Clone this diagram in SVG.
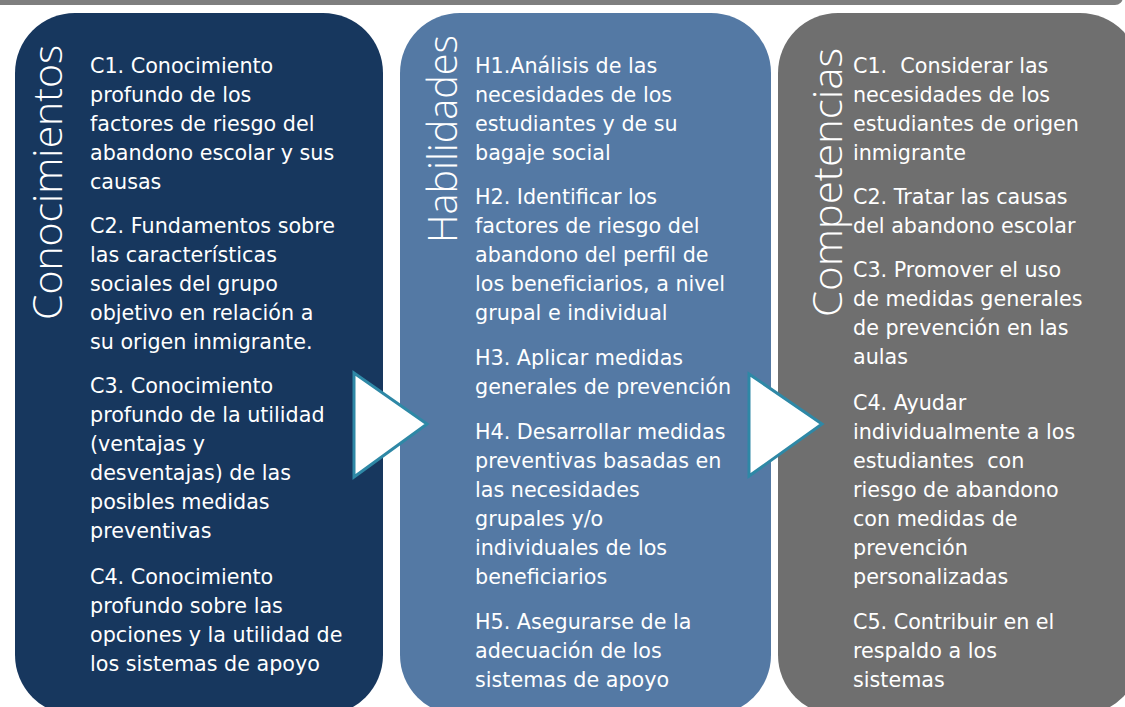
<svg xmlns="http://www.w3.org/2000/svg" width="1125" height="707" viewBox="0 0 1125 707">
<style>
.body{font-family:"DejaVu Sans","Liberation Sans",sans-serif;font-size:20.7px;fill:#ffffff;white-space:pre}
.title{font-family:"Open Sans","Lato","Liberation Sans",sans-serif;font-weight:300;font-size:40px;fill:#ffffff}
.arrow{fill:#ffffff;stroke:#2E88A6;stroke-width:3;stroke-linejoin:miter}
</style>
<rect width="1125" height="707" fill="#ffffff"/>
<rect x="-20" y="-40" width="1143" height="45" rx="8" fill="#7F7F7F"/>
<g id="conocimientos">
<rect x="15" y="13" width="368" height="702" rx="60" fill="#17375E"/>
<text class="title" transform="translate(62,320) rotate(-90)" textLength="275" lengthAdjust="spacingAndGlyphs">Conocimientos</text>
<text class="body" x="90">
<tspan x="90" y="73">C1. Conocimiento</tspan>
<tspan x="90" y="102">profundo de los</tspan>
<tspan x="90" y="131">factores de riesgo del</tspan>
<tspan x="90" y="160">abandono escolar y sus</tspan>
<tspan x="90" y="189">causas</tspan>
<tspan x="90" y="233">C2. Fundamentos sobre</tspan>
<tspan x="90" y="262">las características</tspan>
<tspan x="90" y="291">sociales del grupo</tspan>
<tspan x="90" y="320">objetivo en relación a</tspan>
<tspan x="90" y="349">su origen inmigrante.</tspan>
<tspan x="90" y="393">C3. Conocimiento</tspan>
<tspan x="90" y="422">profundo de la utilidad</tspan>
<tspan x="90" y="451">(ventajas y</tspan>
<tspan x="90" y="480">desventajas) de las</tspan>
<tspan x="90" y="509">posibles medidas</tspan>
<tspan x="90" y="538">preventivas</tspan>
<tspan x="90" y="584">C4. Conocimiento</tspan>
<tspan x="90" y="613">profundo sobre las</tspan>
<tspan x="90" y="642">opciones y la utilidad de</tspan>
<tspan x="90" y="671">los sistemas de apoyo</tspan>
</text>
</g>
<g id="habilidades">
<rect x="400" y="13" width="371" height="702" rx="60" fill="#5479A4"/>
<text class="title" transform="translate(457,243) rotate(-90)" textLength="208" lengthAdjust="spacingAndGlyphs">Habilidades</text>
<text class="body" x="475">
<tspan x="475" y="73">H1.Análisis de las</tspan>
<tspan x="475" y="102">necesidades de los</tspan>
<tspan x="475" y="131">estudiantes y de su</tspan>
<tspan x="475" y="160">bagaje social</tspan>
<tspan x="475" y="204">H2. Identificar los</tspan>
<tspan x="475" y="233">factores de riesgo del</tspan>
<tspan x="475" y="262">abandono del perfil de</tspan>
<tspan x="475" y="291">los beneficiarios, a nivel</tspan>
<tspan x="475" y="320">grupal e individual</tspan>
<tspan x="475" y="365">H3. Aplicar medidas</tspan>
<tspan x="475" y="394">generales de prevención</tspan>
<tspan x="475" y="439">H4. Desarrollar medidas</tspan>
<tspan x="475" y="468">preventivas basadas en</tspan>
<tspan x="475" y="497">las necesidades</tspan>
<tspan x="475" y="526">grupales y/o</tspan>
<tspan x="475" y="555">individuales de los</tspan>
<tspan x="475" y="584">beneficiarios</tspan>
<tspan x="475" y="629">H5. Asegurarse de la</tspan>
<tspan x="475" y="658">adecuación de los</tspan>
<tspan x="475" y="687">sistemas de apoyo</tspan>
</text>
</g>
<g id="competencias">
<rect x="778" y="13" width="362" height="702" rx="60" fill="#6F6F6F"/>
<text class="title" transform="translate(842,317) rotate(-90)" textLength="269" lengthAdjust="spacingAndGlyphs">Competencias</text>
<text class="body" x="853">
<tspan x="853" y="73">C1.  Considerar las</tspan>
<tspan x="853" y="102">necesidades de los</tspan>
<tspan x="853" y="131">estudiantes de origen</tspan>
<tspan x="853" y="160">inmigrante</tspan>
<tspan x="853" y="204">C2. Tratar las causas</tspan>
<tspan x="853" y="233">del abandono escolar</tspan>
<tspan x="853" y="277">C3. Promover el uso</tspan>
<tspan x="853" y="306">de medidas generales</tspan>
<tspan x="853" y="335">de prevención en las</tspan>
<tspan x="853" y="364">aulas</tspan>
<tspan x="853" y="410">C4. Ayudar</tspan>
<tspan x="853" y="439">individualmente a los</tspan>
<tspan x="853" y="468">estudiantes  con</tspan>
<tspan x="853" y="497">riesgo de abandono</tspan>
<tspan x="853" y="526">con medidas de</tspan>
<tspan x="853" y="555">prevención</tspan>
<tspan x="853" y="584">personalizadas</tspan>
<tspan x="853" y="629">C5. Contribuir en el</tspan>
<tspan x="853" y="658">respaldo a los</tspan>
<tspan x="853" y="687">sistemas</tspan>
</text>
</g>
<g id="connectors">
<polygon class="arrow" points="354,373 427,424 354,477"/>
<polygon class="arrow" points="749,374 822,424 749,476"/>
</g>
</svg>
